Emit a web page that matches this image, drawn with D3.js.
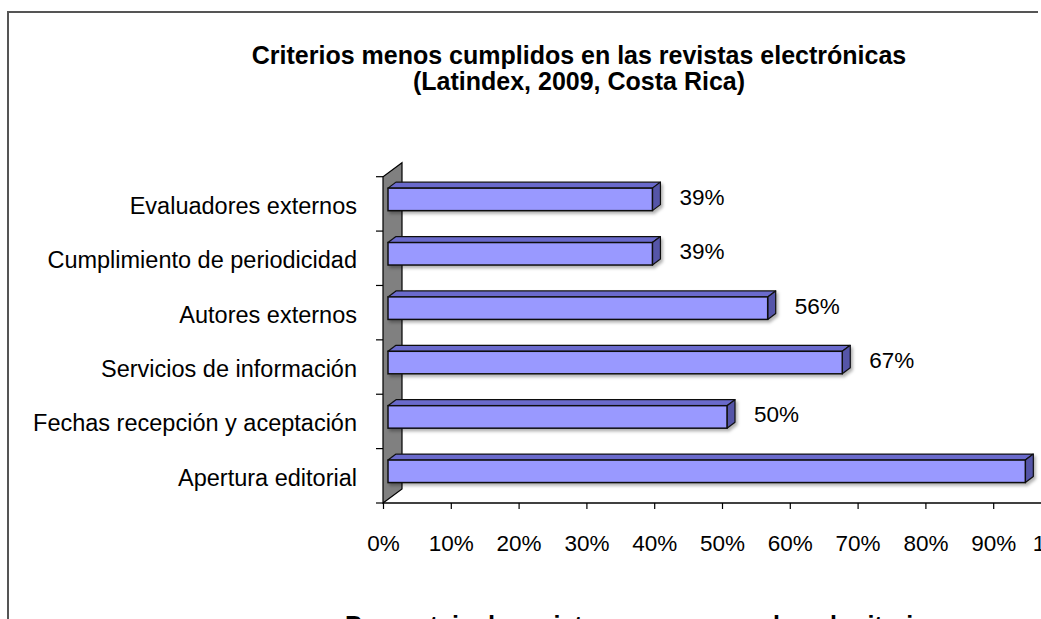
<!DOCTYPE html>
<html>
<head>
<meta charset="utf-8">
<script src="https://cdn.jsdelivr.net/npm/d3@7"></script>
<style>
  html, body { margin: 0; padding: 0; background: #fff; }
  svg { display: block; font-family: "Liberation Sans", Arial, sans-serif; }
</style>
</head>
<body>
<svg id="chart" width="1041" height="619"></svg>
<script>
// ---- data ----
const categories = [
  "Evaluadores externos",
  "Cumplimiento de periodicidad",
  "Autores externos",
  "Servicios de información",
  "Fechas recepción y aceptación",
  "Apertura editorial"
];
const values = [0.39, 0.39, 0.56, 0.67, 0.50, 0.94];
const valueLabels = ["39%", "39%", "56%", "67%", "50%", "94%"];
const tickValues = [0, 0.1, 0.2, 0.3, 0.4, 0.5, 0.6, 0.7, 0.8, 0.9, 1.0];
const titleLines = ["Criterios menos cumplidos en las revistas electrónicas", "(Latindex, 2009, Costa Rica)"];
const axisTitle = "Porcentaje de revistas que no cumplen el criterio";

// ---- layout ----
const svg = d3.select("#chart");
const x = d3.scaleLinear().domain([0, 1]).range([383, 1061]);
const y = d3.scaleBand().domain(categories).range([176.7, 503]);
const wallD = { dx: 19, dy: -14 };
const front = { dx: 5, dy: -4.5 };
const depth = { dx: 8, dy: -6 };
const barH = 22.5;

const defs = svg.append("defs");
const f = defs.append("filter").attr("id", "sh").attr("x", "-5%").attr("y", "-30%").attr("width", "115%").attr("height", "180%");
f.append("feDropShadow").attr("dx", 2).attr("dy", 2.5).attr("stdDeviation", 1.5).attr("flood-color", "#000").attr("flood-opacity", 0.3);

// frame
svg.append("path").attr("d", "M8,619 L8,12 L1038,12").attr("fill", "none").attr("stroke", "#555").attr("stroke-width", 2);

// title
const title = svg.append("text").attr("text-anchor", "middle").attr("font-weight", "bold").attr("font-size", 25).attr("fill", "#000");
titleLines.forEach((t, i) => title.append("tspan").attr("x", 579).attr("y", 63.5 + i * 26.5).text(t));

// wall (3D back wall at x=0)
const x0 = x(0), yTop = y.range()[0], yBot = y.range()[1];
svg.append("path")
  .attr("d", `M${x0},${yBot} L${x0},${yTop} L${x0 + wallD.dx},${yTop + wallD.dy} L${x0 + wallD.dx},${yBot + wallD.dy} Z`)
  .attr("fill", "#808080").attr("stroke", "#000").attr("stroke-width", 1.2);

// left axis ticks
const yTicks = categories.map(c => y(c)).concat([yBot]);
svg.append("g").selectAll("line").data(yTicks).join("line")
  .attr("x1", x0 - 7).attr("x2", x0).attr("y1", d => d).attr("y2", d => d)
  .attr("stroke", "#000").attr("stroke-width", 1.2);

// bottom axis
const xAxis = d3.axisBottom(x).tickValues(tickValues).tickSize(6).tickFormat(d3.format(".0%"));
const gx = svg.append("g").attr("transform", `translate(0,${yBot})`).call(xAxis);
gx.select(".domain").attr("stroke", "#000").attr("stroke-width", 1.5).attr("d", `M${x0},0H1041`);
gx.selectAll(".tick line").attr("stroke", "#000").attr("stroke-width", 1.2);
gx.selectAll(".tick text").attr("font-size", 22.5).attr("fill", "#000").attr("font-family", "Liberation Sans, Arial, sans-serif").attr("dy", 0).attr("y", 48);

// category labels
svg.append("g").selectAll("text").data(categories).join("text")
  .attr("x", 357).attr("y", d => y(d) + y.bandwidth() / 2 + 10)
  .attr("text-anchor", "end").attr("font-size", 23.5).attr("fill", "#000")
  .text(d => d);

// bars
const bars = svg.append("g").selectAll("g").data(categories).join("g").attr("filter", "url(#sh)");
bars.each(function (c, i) {
  const g = d3.select(this);
  const cy = y(c) + y.bandwidth() / 2 + front.dy;
  const xl = x0 + front.dx, xr = x(values[i]) + front.dx;
  const yt = cy - barH / 2, yb = cy + barH / 2;
  // top face
  g.append("path")
    .attr("d", `M${xl},${yt} L${xr},${yt} L${xr + depth.dx},${yt + depth.dy} L${xl + depth.dx},${yt + depth.dy} Z`)
    .attr("fill", "#6b6bcc").attr("stroke", "#111").attr("stroke-width", 1.2).attr("stroke-linejoin", "round");
  // right face
  g.append("path")
    .attr("d", `M${xr},${yt} L${xr + depth.dx},${yt + depth.dy} L${xr + depth.dx},${yb + depth.dy} L${xr},${yb} Z`)
    .attr("fill", "#5555a8").attr("stroke", "#111").attr("stroke-width", 1.2).attr("stroke-linejoin", "round");
  // front face
  g.append("rect").attr("x", xl).attr("y", yt).attr("width", xr - xl).attr("height", barH)
    .attr("fill", "#9999ff").attr("stroke", "#111").attr("stroke-width", 1.5);
});

// value labels
svg.append("g").selectAll("text").data(categories).join("text")
  .attr("x", (d, i) => x(values[i]) + 32)
  .attr("y", (d, i) => y(d) + y.bandwidth() / 2 + 1)
  .attr("font-size", 22.5).attr("fill", "#000")
  .text((d, i) => valueLabels[i]);

// axis title (cut off at bottom edge, as in the reference)
svg.append("text").attr("x", 345).attr("y", 634).attr("font-weight", "bold").attr("font-size", 25).attr("fill", "#000").text(axisTitle);
</script>
</body>
</html>
